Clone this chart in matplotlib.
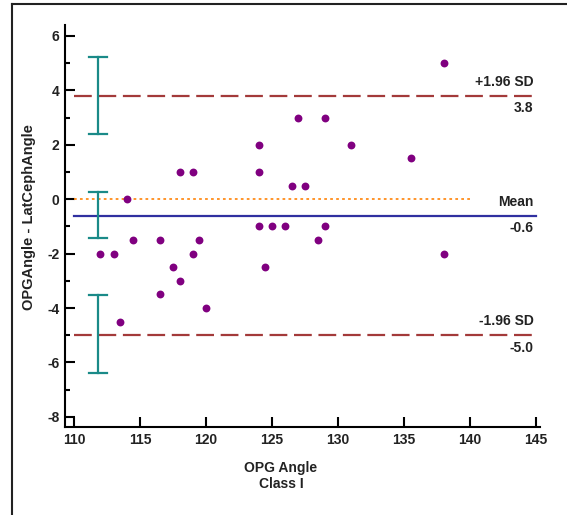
import matplotlib
matplotlib.use("Agg")
import matplotlib.pyplot as plt
from matplotlib.lines import Line2D
import numpy as np

plt.rcParams['axes.unicode_minus'] = False

# Bland-Altman data
opg_angle = [112, 113, 113.5, 114, 114.5, 116.5, 116.5, 117.5, 118, 118,
             119, 119, 119.5, 120, 124, 124, 124, 124.5, 125, 126,
             126.5, 127, 127.5, 128.5, 129, 129, 131, 135.5, 138, 138]
difference = [-2, -2, -4.5, 0, -1.5, -1.5, -3.5, -2.5, -3, 1,
              1, -2, -1.5, -4, 2, 1, -1, -2.5, -1, -1,
              0.5, 3, 0.5, -1.5, 3, -1, 2, 1.5, 5, -2]

mean_diff = -0.6
upper_loa = 3.8
lower_loa = -5.0
# confidence intervals of mean and limits
ci_x = 111.8
ci_lows = [2.38, -1.41, -6.39]
ci_highs = [5.23, 0.25, -3.53]

font = ['Liberation Sans', 'DejaVu Sans']

fig = plt.figure(figsize=(5.67, 5.15), dpi=100)
ax = fig.add_axes([65/567, 1 - 427/515, 475/567, 402/515])

# reference lines
ax.plot([110, 145], [upper_loa, upper_loa], color='#a33a3a', lw=1.6, linestyle=(0, (8, 3)))
ax.plot([110, 145], [lower_loa, lower_loa], color='#a33a3a', lw=1.6, linestyle=(0, (8, 3)))
ax.plot([110, 145], [mean_diff, mean_diff], color='#3030a0', lw=1.6)
ax.plot([110, 140], [0, 0], color='#ff8c1a', lw=1.3, linestyle=(0, (1.5, 1.8)))

# CI error bars
for lo, hi in zip(ci_lows, ci_highs):
    ax.plot([ci_x, ci_x], [lo, hi], color='#1a8a88', lw=1.6)
    ax.plot([ci_x - 0.68, ci_x + 0.68], [lo, lo], color='#1a8a88', lw=1.6)
    ax.plot([ci_x - 0.68, ci_x + 0.68], [hi, hi], color='#1a8a88', lw=1.6)

ax.scatter(opg_angle, difference, s=32, color='#800080', zorder=3, linewidths=0)

# line labels
lab_kw = dict(ha='right', fontsize=10, family=font, fontweight='bold', color='#222222')
ax.text(144.8, upper_loa + 0.25, '+1.96 SD', va='bottom', **lab_kw)
ax.text(144.8, upper_loa - 0.2, '%.1f' % upper_loa, va='top', **lab_kw)
ax.text(144.8, mean_diff + 0.25, 'Mean', va='bottom', **lab_kw)
ax.text(144.8, mean_diff - 0.2, '%.1f' % mean_diff, va='top', **lab_kw)
ax.text(144.8, lower_loa + 0.25, '-1.96 SD', va='bottom', **lab_kw)
ax.text(144.8, lower_loa - 0.2, '%.1f' % lower_loa, va='top', **lab_kw)

ax.set_xlim(109.32, 145.3)
ax.set_ylim(-8.37, 6.4)
ax.set_xticks(np.arange(110, 146, 5))
ax.set_yticks(np.arange(-8, 7, 2))
ax.set_yticks(np.arange(-7, 7, 2), minor=True)

for side in ['top', 'right']:
    ax.spines[side].set_visible(False)
for side in ['left', 'bottom']:
    ax.spines[side].set_linewidth(1.5)

ax.tick_params(axis='both', which='major', direction='in', length=7, width=1.5, pad=4)
ax.tick_params(axis='y', which='minor', direction='in', length=3.6, width=1.5)
for lbl in ax.get_xticklabels() + ax.get_yticklabels():
    lbl.set_family(font)
    lbl.set_fontweight('bold')
    lbl.set_fontsize(10)
    lbl.set_color('#222222')

ax.set_ylabel('OPGAngle - LatCephAngle', fontsize=10.5, family=font, fontweight='bold',
              color='#222222')
ax.yaxis.set_label_coords(-0.062, 0.522)
fig.text(281/567, 1 - 476/515, 'OPG Angle\nClass I', ha='center', va='center', fontsize=10,
         family=font, fontweight='bold', color='#222222', linespacing=1.25)

# frame around the figure (only left and top visible)
fig.add_artist(Line2D([12/567, 12/567], [0, 1 - 4/515], color='#222222', lw=1.5))
fig.add_artist(Line2D([12/567, 1], [1 - 4/515, 1 - 4/515], color='#222222', lw=1.5))

fig.savefig('out.png', dpi=100)
